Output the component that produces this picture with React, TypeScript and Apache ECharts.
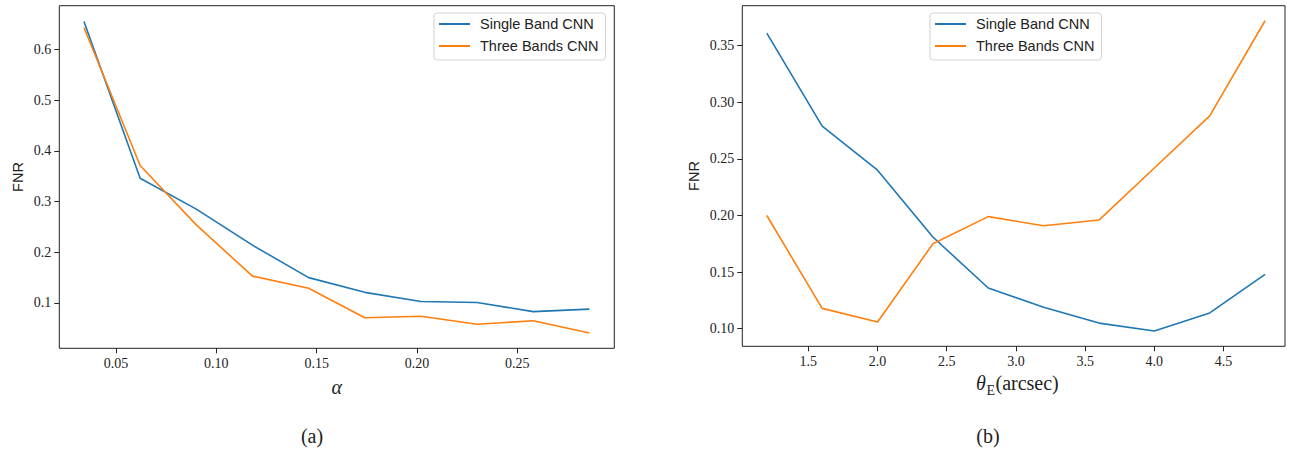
import React, { useEffect, useRef } from 'react';
import * as echarts from 'echarts';

// ---- data (panel a: FNR vs alpha) ----
const alphaValues = [0.034, 0.062, 0.090, 0.118, 0.146, 0.174, 0.202, 0.230, 0.258, 0.286];
const singleBandByAlpha = [0.655, 0.346, 0.285, 0.214, 0.150, 0.121, 0.103, 0.101, 0.083, 0.088];
const threeBandsByAlpha = [0.643, 0.371, 0.254, 0.153, 0.129, 0.071, 0.074, 0.058, 0.065, 0.041];

// ---- data (panel b: FNR vs theta_E) ----
const thetaValues = [1.2, 1.6, 2.0, 2.4, 2.8, 3.2, 3.6, 4.0, 4.4, 4.8];
const singleBandByTheta = [0.361, 0.279, 0.240, 0.181, 0.136, 0.119, 0.105, 0.098, 0.114, 0.148];
const threeBandsByTheta = [0.200, 0.118, 0.106, 0.175, 0.199, 0.191, 0.196, 0.242, 0.288, 0.372];

// ---- tick labels ----
const alphaTicks = [0.05, 0.1, 0.15, 0.2, 0.25];
const fnrTicksA = [0.1, 0.2, 0.3, 0.4, 0.5, 0.6];
const thetaTicks = [1.5, 2.0, 2.5, 3.0, 3.5, 4.0, 4.5];
const fnrTicksB = [0.1, 0.15, 0.2, 0.25, 0.3, 0.35];

const seriesNames = ['Single Band CNN', 'Three Bands CNN'];
const BLUE = '#1f77b4';
const ORANGE = '#ff7f0e';
const SERIF = '"Liberation Serif", "Times New Roman", serif';
const SANS = '"Liberation Sans", Arial, sans-serif';
const INK = '#222';

const zip = (xs: number[], ys: number[]) => xs.map((x, i) => [x, ys[i]]);

function valueAxis(gridIndex: number, min: number, max: number, ticks: number[], digits: number, extra: any = {}) {
  return {
    type: 'value',
    gridIndex,
    min,
    max,
    axisLine: { show: false },
    splitLine: { show: false },
    axisTick: {
      show: true,
      inside: false,
      length: 5,
      customValues: ticks,
      lineStyle: { color: INK, width: 1 },
    },
    axisLabel: {
      show: true,
      customValues: ticks,
      formatter: (v: number) => v.toFixed(digits),
      fontFamily: SERIF,
      fontSize: 14,
      color: INK,
      margin: 8,
    },
    ...extra,
  };
}

function legend(left: number) {
  return {
    data: seriesNames,
    orient: 'vertical',
    left,
    top: 13,
    icon: 'rect',
    itemWidth: 31,
    itemHeight: 2,
    itemGap: 6,
    padding: [3, 7, 6, 5],
    backgroundColor: 'rgba(255,255,255,0.8)',
    borderColor: '#d4d4d4',
    borderWidth: 1,
    borderRadius: 3,
    textStyle: { fontFamily: SANS, fontSize: 14.5, color: INK, lineHeight: 16, padding: [0, 0, 0, 5] },
    selectedMode: false,
  };
}

export default function App() {
  const ref = useRef<HTMLDivElement>(null);

  useEffect(() => {
    if (!ref.current) return;
    const chart = echarts.init(ref.current, null, { renderer: 'svg' });

    const option: any = {
      animation: false,
      backgroundColor: '#fff',
      grid: [
        { left: 59.3, top: 5.7, width: 555, height: 342.6, show: true, borderColor: INK, borderWidth: 1, backgroundColor: 'transparent' },
        { left: 742.3, top: 5.7, width: 542.7, height: 340.6, show: true, borderColor: INK, borderWidth: 1, backgroundColor: 'transparent' },
      ],
      xAxis: [
        valueAxis(0, 0.0217, 0.2984, alphaTicks, 2, {
          name: 'α',
          nameLocation: 'middle',
          nameGap: 29,
          nameTextStyle: { fontFamily: SERIF, fontStyle: 'italic', fontSize: 20, color: INK },
        }),
        valueAxis(1, 1.023, 4.944, thetaTicks, 1),
      ],
      yAxis: [
        valueAxis(0, 0.0107, 0.686, fnrTicksA, 1, {
          name: 'FNR',
          nameLocation: 'middle',
          nameRotate: 90,
          nameGap: 34,
          nameTextStyle: { fontFamily: SANS, fontSize: 14.5, color: INK },
        }),
        valueAxis(1, 0.0845, 0.3853, fnrTicksB, 2, {
          name: 'FNR',
          nameLocation: 'middle',
          nameRotate: 90,
          nameGap: 41,
          nameTextStyle: { fontFamily: SANS, fontSize: 14.5, color: INK },
        }),
      ],
      legend: [legend(434), legend(930)],
      series: [
        { name: seriesNames[0], type: 'line', xAxisIndex: 0, yAxisIndex: 0, data: zip(alphaValues, singleBandByAlpha), showSymbol: false, color: BLUE, lineStyle: { width: 1.6, color: BLUE }, z: 2 },
        { name: seriesNames[1], type: 'line', xAxisIndex: 0, yAxisIndex: 0, data: zip(alphaValues, threeBandsByAlpha), showSymbol: false, color: ORANGE, lineStyle: { width: 1.6, color: ORANGE }, z: 3 },
        { name: seriesNames[0], type: 'line', xAxisIndex: 1, yAxisIndex: 1, data: zip(thetaValues, singleBandByTheta), showSymbol: false, color: BLUE, lineStyle: { width: 1.6, color: BLUE }, z: 2 },
        { name: seriesNames[1], type: 'line', xAxisIndex: 1, yAxisIndex: 1, data: zip(thetaValues, threeBandsByTheta), showSymbol: false, color: ORANGE, lineStyle: { width: 1.6, color: ORANGE }, z: 3 },
      ],
      graphic: [
        {
          type: 'group',
          children: [
            { type: 'text', x: 976, y: 383, style: { text: 'θ', font: `italic 20px ${SERIF}`, fill: INK, verticalAlign: 'middle', align: 'left' } },
            { type: 'text', x: 986.5, y: 390, style: { text: 'E', font: `14px ${SERIF}`, fill: INK, verticalAlign: 'middle', align: 'left' } },
            { type: 'text', x: 995.5, y: 383, style: { text: '(arcsec)', font: `20px ${SERIF}`, fill: INK, verticalAlign: 'middle', align: 'left' } },
          ],
        },
        { type: 'text', x: 312, y: 436, style: { text: '(a)', font: `20px ${SERIF}`, fill: INK, align: 'center', verticalAlign: 'middle' } },
        { type: 'text', x: 988, y: 436, style: { text: '(b)', font: `20px ${SERIF}`, fill: INK, align: 'center', verticalAlign: 'middle' } },
      ],
    };

    chart.setOption(option);
    return () => chart.dispose();
  }, []);

  return <div ref={ref} style={{ position: 'absolute', left: 0, top: 0, width: 1295, height: 449 }} />;
}
